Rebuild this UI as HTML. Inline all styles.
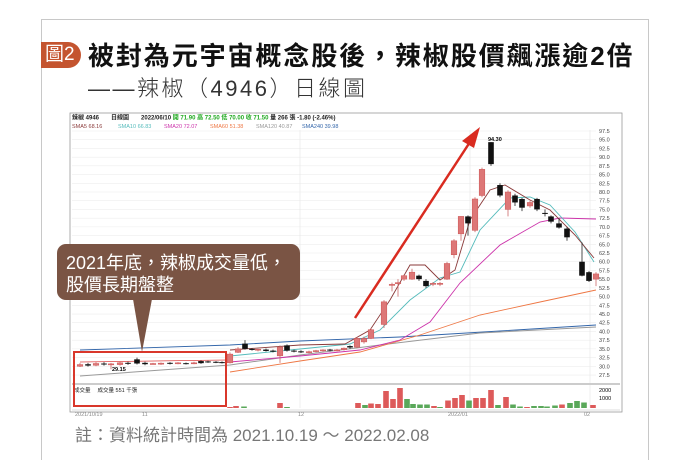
<!DOCTYPE html>
<html><head><meta charset="utf-8"><style>
html,body{margin:0;padding:0;background:#fff;}
body{width:700px;height:444px;position:relative;overflow:hidden;font-family:"Liberation Sans","Noto Sans CJK TC",sans-serif;}
.frame{position:absolute;left:41px;top:19px;width:606px;height:440px;border:1px solid #c8c8c8;border-bottom:none;}
.badge{position:absolute;left:41px;top:42px;width:36px;height:26px;background:#c4542f;border-radius:0 13px 13px 0;color:#fff;font-size:19px;line-height:26px;padding-left:4px;}
.t1{position:absolute;left:88px;top:36px;font-size:26px;font-weight:bold;color:#111;white-space:nowrap;letter-spacing:1.9px;}
.t2{position:absolute;left:88px;top:71px;font-size:22px;color:#333;white-space:nowrap;font-weight:300;letter-spacing:2.5px;}
.note{position:absolute;left:75px;top:421px;font-size:17px;color:#777;white-space:nowrap;}
svg{position:absolute;left:0;top:0;}
</style></head><body>
<div class="frame"></div>
<div class="badge">圖2</div>
<div class="t1">被封為元宇宙概念股後，辣椒股價飆漲逾2倍</div>
<div class="t2">——辣椒（4946）日線圖</div>
<svg id="s" width="700" height="444" xmlns="http://www.w3.org/2000/svg"></svg>
<div class="note">註：資料統計時間為 2021.10.19 ～ 2022.02.08</div>
<script>
const s=document.getElementById('s');let h='';
const Y=p=>131+(97.5-p)*3.486;
h+='<rect x="70" y="113" width="552" height="299" fill="#fff" stroke="#999" stroke-width="0.8"/>';
h+='<text x="72" y="119.5" font-size="6" font-weight="bold" fill="#222">辣椒 4946　　日線圖　　2022/06/10 <tspan fill="#2a2">開 71.90 高 72.50 低 70.00 收 71.50</tspan> 量 266 張 -1.80 (-2.46%)</text>';
const ma=[["SMA5 68.16",'#8a3a3a'],["SMA10 66.83",'#5bb'],["SMA20 72.07",'#c3a'],["SMA60 51.38",'#e74'],["SMA120 40.87",'#999'],["SMA240 39.98",'#36a']];
ma.forEach((m,i)=>h+=`<text x="${72+i*46}" y="128" font-size="5.5" fill="${m[1]}">${m[0]}</text>`);
for(let p=97.5;p>=27.4;p-=2.5){const y=Y(p);h+=`<line x1="72" y1="${y}" x2="596" y2="${y}" stroke="#eee" stroke-width="0.6"/><text x="599" y="${y+2}" font-size="5.5" fill="#444">${p.toFixed(1)}</text>`;}
[300,470,590].forEach(x=>h+=`<line x1="${x}" y1="130" x2="${x}" y2="408" stroke="#e4e4e4" stroke-width="0.6"/>`);
h+='<line x1="72" y1="384" x2="620" y2="384" stroke="#ccc" stroke-width="2"/>';
h+='<text x="599" y="392" font-size="5.5">2000</text><text x="599" y="400" font-size="5.5">1000</text>';
h+='<text x="74" y="392" font-size="5.5" fill="#222">成交量　 成交量 551 千張</text>';
h+='<text x="112" y="371" font-size="5.5" font-weight="bold">29.15</text><text x="488" y="141" font-size="5.5" font-weight="bold">94.30</text>';
h+='<line x1="72" y1="410" x2="620" y2="410" stroke="#bbb" stroke-width="0.6"/>';
h+='<text x="75" y="416" font-size="5.5" fill="#888">2021/10/19</text><text x="142" y="416" font-size="5.5" fill="#888">11</text><text x="298" y="416" font-size="5.5" fill="#888">12</text><text x="448" y="416" font-size="5.5" fill="#888">2022/01</text><text x="584" y="416" font-size="5.5" fill="#888">02</text>';
const L=(pts,c,w)=>h+=`<polyline points="${pts}" fill="none" stroke="${c}" stroke-width="${w||0.9}"/>`;
L("80,350 230,345 300,341 400,337 500,331 596,325",'#36a');
L("80,376 230,365 300,355 380,345 480,333 596,327",'#999',1);
L("230,372 300,361 360,352 420,335 480,315 540,302 596,290",'#e74');
L("230,362 300,356 360,350 400,340 430,322 460,283 500,245 540,222 560,218 596,219",'#c3a');
L("230,356 300,349 350,344 380,330 410,300 440,278 460,272 480,230 510,198 530,197 550,205 575,232 594,262",'#5bb');
L("230,350 300,345 345,344 370,330 390,300 410,265 425,265 440,280 455,270 470,220 490,190 505,185 530,200 550,210 575,235 594,258",'#8a3a3a');
L("80,362 226,360",'#d44',0.8);
const C=[[80,30,30.5,31,29.8],[88,30.6,30.2,31,29.9],[96,30.3,30.8,31.2,30],[104,30.8,30.6,31.2,30.2],[111,30.6,30.7,31,29.15],[120,30.5,31,31.3,30.2],[128,31,30.8,31.3,30.4],[137,32,30.8,32.5,30.5],[145,31,30.6,31.3,30.3],[153,30.8,30.8,31,30.5],[161,30.7,30.9,31.1,30.4],[170,31,30.8,31.2,30.5],[178,30.9,31,31.2,30.6],[186,30.9,30.7,31.1,30.5],[194,30.8,31,31.3,30.6],[201,31.5,30.9,31.7,30.7],[208,31.4,31.2,31.6,31],[216,31.3,31.1,31.5,30.9],[222,31.2,31,31.4,30.8],
[230,31,33.5,34,30.8],[238,34,35,35.5,33.8],[245,36.5,35,37.5,34.8],[252,35,34.7,35.2,34.5],[258,34.7,34.9,35,34.3],[266,34.8,34.4,35.1,34.2],[273,34.5,34.2,34.8,34],[280,33,35.5,36,31],[287,36,34.5,36.3,34.2],[294,34.5,34.3,34.8,34],[301,34.3,34,34.6,33.8],[309,34,34.2,34.5,33.7],[316,34.3,34.5,34.7,34],[323,34.5,34.7,34.9,34.2],[330,34.8,34.6,35,34.3],[337,34.6,34.7,35,34.3],[344,34.8,35.2,35.4,34.5],[350,35.8,35.4,36,35],[357,35.5,38,38.4,35.2],[364,37,38,38.5,36.5],[371,38,40.5,41,37.8],[384,42,48.5,49,41],[392,53.5,53.5,54,51.5],[398,54,54,55,50],[404,55,56,56.3,54.5],[412,55,57,58,54.8],[419,56,55,56.3,54.5],[426,54.5,53,55,52.5],[433,53.5,53.8,54.2,53],[440,53.5,53.8,54.2,53],[447,55,59.5,60,54.8],[454,62,66,66.5,61],[461,68,73,73,66],[468,73,71,73.3,67.5],[475,69,78,78.5,68.5],[482,79,86.5,87,78.5],[491,94.3,88,94.3,87.5],[500,82,79,82.5,78.5],[508,75,80,80.5,73],[515,79,77,79.5,76],[522,78,75.5,78.3,74.5],[530,76,77,77.5,75.5],[537,78,75,78.3,74.5],[545,74,73.8,75,73],[551,73,71.5,73.3,71],[559,71,69.8,72.5,69.5],[567,69.5,67,70,66],[582,60,56,65.5,55.8],[589,57,54.5,57.3,54.2],[596,55,56.5,57,53]];
C.forEach(([x,o,c,hi,lo])=>{const up=c>=o;const col=up?'#dd7777':'#111';const t=Y(Math.max(o,c)),b=Y(Math.min(o,c));
h+=`<line x1="${x}" y1="${Y(hi)}" x2="${x}" y2="${Y(lo)}" stroke="${up?'#c66':'#222'}" stroke-width="0.8"/><rect x="${x-2.8}" y="${t}" width="5.6" height="${Math.max(b-t,1)}" fill="${col}" ${up?'stroke="#c55" stroke-width="0.5"':''}/>`;});
const V=[[230,1,'r'],[236,2,'r'],[244,1.5,'g'],[280,5,'r'],[287,1,'g'],[358,5,'r'],[365,3,'g'],[371,4.5,'r'],[378,4,'r'],[386,17,'r'],[393,9,'r'],[400,20,'r'],[407,9,'g'],[413,4,'g'],[420,3.5,'g'],[427,3.5,'g'],[434,2,'r'],[440,1,'g'],[448,7.5,'r'],[455,10,'r'],[462,13,'r'],[469,7.5,'g'],[476,10,'r'],[483,10,'r'],[491,18,'r'],[498,3,'g'],[506,11,'r'],[513,3.5,'g'],[520,1.5,'g'],[527,1,'r'],[534,2,'g'],[541,2,'g'],[547,1.5,'g'],[555,2.5,'g'],[562,3.5,'r'],[570,5,'g'],[577,7,'g'],[584,5.5,'g'],[593,3,'r']];
V.forEach(([x,v,c])=>h+=`<rect x="${x-2.8}" y="${408-v}" width="5.6" height="${v}" fill="${c=='r'?'#dd5a5a':'#5aa85a'}"/>`);
h+='<line x1="355" y1="318" x2="470" y2="142" stroke="#d92b20" stroke-width="2.5"/><polygon points="480,127 462,141 474,148" fill="#d92b20"/>';
h+='<rect x="74" y="352" width="152" height="54" fill="none" stroke="#d9372b" stroke-width="2"/>';
h+='<rect x="57" y="244" width="243" height="56" rx="9" fill="#7a5444"/><polygon points="133,299 152,299 142,352" fill="#7a5444"/>';
h+='<text x="66" y="269" font-size="18" fill="#fff">2021年底，辣椒成交量低，</text><text x="66" y="291" font-size="18" fill="#fff">股價長期盤整</text>';
s.innerHTML=h;
</script>
</body></html>
